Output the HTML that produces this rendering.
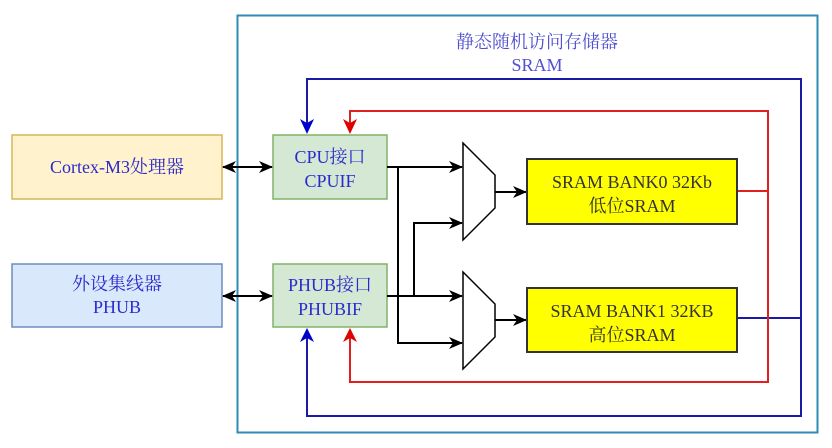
<!DOCTYPE html>
<html><head><meta charset="utf-8"><style>
body{margin:0;background:#fff;width:832px;height:443px;overflow:hidden}
svg text{font-family:"Liberation Serif","Noto Serif CJK SC",serif;font-size:18px;text-anchor:middle}
</style></head><body>
<svg width="832" height="443" viewBox="0 0 832 443" xmlns="http://www.w3.org/2000/svg">
<defs>
<marker id="ak" markerWidth="14" markerHeight="14" refX="13" refY="7" orient="auto" markerUnits="userSpaceOnUse"><path d="M0,1 L14,7 L0,13 L4,7 z" fill="#000"/></marker>
<marker id="aks" markerWidth="14" markerHeight="14" refX="1" refY="7" orient="auto" markerUnits="userSpaceOnUse"><path d="M14,1 L0,7 L14,13 L10,7 z" fill="#000"/></marker>
</defs>
<rect x="237.5" y="15.5" width="580" height="417" fill="none" stroke="#2e8bb5" stroke-width="2"/>
<text x="537" y="48" fill="#5050d0">静态随机访问存储器</text>
<text x="537" y="71" fill="#5050d0">SRAM</text>
<polyline points="307,125 307,79 801,79 801,416 307,416 307,336" fill="none" stroke="#1a1aaa" stroke-width="2"/>
<line x1="737" y1="318" x2="801" y2="318" stroke="#1a1aaa" stroke-width="2"/>
<path d="M300,119 L307,134 L314,119 L307,123 z" fill="#0000cc"/>
<path d="M300,342 L307,328 L314,342 L307,338 z" fill="#0000cc"/>
<polyline points="350,125 350,111 768,111 768,382 350,382 350,336" fill="none" stroke="#e02020" stroke-width="2"/>
<line x1="737" y1="191" x2="768" y2="191" stroke="#e02020" stroke-width="2"/>
<path d="M343,119 L350,134 L357,119 L350,123 z" fill="#e00000"/>
<path d="M343,342 L350,328 L357,342 L350,338 z" fill="#e00000"/>
<rect x="12" y="135" width="210" height="64" fill="#fff2cc" stroke="#d6b656" stroke-width="1.5"/>
<text x="117" y="173" fill="#2a2acc">Cortex-M3处理器</text>
<rect x="12" y="264" width="210" height="63" fill="#dae8fc" stroke="#6c8ebf" stroke-width="1.5"/>
<text x="117" y="290" fill="#2a2acc">外设集线器</text>
<text x="117" y="313" fill="#2a2acc">PHUB</text>
<rect x="273" y="135" width="114" height="64" fill="#d5e8d4" stroke="#82b366" stroke-width="1.5"/>
<text x="330" y="163" fill="#2a2acc">CPU接口</text>
<text x="330" y="187" fill="#2a2acc">CPUIF</text>
<rect x="273" y="264" width="114" height="63" fill="#d5e8d4" stroke="#82b366" stroke-width="1.5"/>
<text x="330" y="291" fill="#2a2acc">PHUB接口</text>
<text x="330" y="315" fill="#2a2acc">PHUBIF</text>
<line x1="223" y1="167" x2="272" y2="167" stroke="#000" stroke-width="2" marker-start="url(#aks)" marker-end="url(#ak)"/>
<line x1="223" y1="296" x2="272" y2="296" stroke="#000" stroke-width="2" marker-start="url(#aks)" marker-end="url(#ak)"/>
<path d="M463,143 L495,175 L495,208 L463,240 z" fill="#fff" stroke="#000" stroke-width="1.5"/>
<path d="M463,272 L495,304 L495,337 L463,369 z" fill="#fff" stroke="#000" stroke-width="1.5"/>
<g stroke="#000" stroke-width="2" fill="none">
<line x1="387" y1="167" x2="462" y2="167" marker-end="url(#ak)"/>
<polyline points="398,167 398,343 462,343" marker-end="url(#ak)"/>
<line x1="387" y1="296" x2="462" y2="296" marker-end="url(#ak)"/>
<polyline points="414,296 414,223 462,223" marker-end="url(#ak)"/>
<line x1="495" y1="192" x2="526" y2="192" marker-end="url(#ak)"/>
<line x1="495" y1="320" x2="526" y2="320" marker-end="url(#ak)"/>
</g>
<rect x="527" y="159" width="210" height="65" fill="#ffff00" stroke="#333" stroke-width="2"/>
<text x="632" y="188" fill="#333">SRAM BANK0 32Kb</text>
<text x="632" y="212" fill="#333">低位SRAM</text>
<rect x="527" y="288" width="210" height="64" fill="#ffff00" stroke="#333" stroke-width="2"/>
<text x="632" y="317" fill="#333">SRAM BANK1 32KB</text>
<text x="632" y="341" fill="#333">高位SRAM</text>
</svg>
</body></html>
